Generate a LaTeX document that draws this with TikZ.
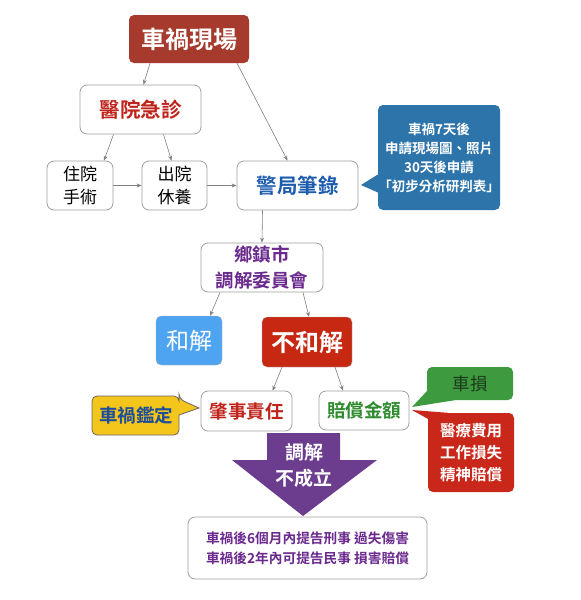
\documentclass[tikz,border=0pt]{standalone}
\usepackage{fontspec}
\setmainfont{Noto Sans CJK TC}[BoldFont={Noto Sans CJK TC Bold}]
\usetikzlibrary{arrows.meta}
\definecolor{scenered}{HTML}{A63A2C}
\definecolor{erred}{HTML}{C0231A}
\definecolor{policeblue}{HTML}{1C5BAE}
\definecolor{noteblue}{HTML}{2D74AA}
\definecolor{mediatepurple}{HTML}{6B2A8E}
\definecolor{peaceblue}{HTML}{4FA4F2}
\definecolor{nopeacered}{HTML}{C62812}
\definecolor{checkyellow}{HTML}{F4C51B}
\definecolor{checkblue}{HTML}{1C4E9A}
\definecolor{paygreen}{HTML}{2E8B2E}
\definecolor{carbg}{HTML}{3D9A3E}
\definecolor{carfg}{HTML}{1E3A1E}
\definecolor{costred}{HTML}{C9271A}
\definecolor{arrowpurple}{HTML}{6C3D8E}
\tikzset{
  whitebox/.style={draw=gray!75, line width=0.8pt, fill=white, rounded corners=7pt, align=center, inner sep=0pt},
  fillbox/.style={rounded corners=5pt, align=center, inner sep=0pt, text=white, font=\bfseries},
  link/.style={draw=gray, line width=0.6pt, -{Stealth[length=5pt,width=4pt]}},
}
\begin{document}
\begin{tikzpicture}[x=1pt, y=-1pt]
		\useasboundingbox (0,0) rectangle (581,600);
		% Top
		\node[fillbox, fill=scenered, minimum width=120pt, minimum height=48pt, font=\bfseries\fontsize{24}{24}\selectfont] (scene) at (189,39) {車禍現場};
		\node[whitebox, minimum width=121pt, minimum height=49pt, text=erred, font=\bfseries\fontsize{20.5}{20.5}\selectfont] (er) at (140.5,109.5) {醫院急診};
		% Hospital and police
		\node[whitebox, minimum width=66pt, minimum height=49pt, font=\fontsize{17}{23}\selectfont] (surgery) at (80,185.5) {住院\\手術};
		\node[whitebox, minimum width=65pt, minimum height=49pt, font=\fontsize{17}{23}\selectfont] (rest) at (174.5,185.5) {出院\\休養};
		\node[whitebox, minimum width=121pt, minimum height=49pt, text=policeblue, font=\bfseries\fontsize{20.5}{20.5}\selectfont] (police) at (297.5,185.5) {警局筆錄};
		\node[fillbox, fill=noteblue, minimum width=122pt, minimum height=105pt, font=\bfseries\fontsize{13.5}{19}\selectfont] (note) at (439,157.5) {車禍7天後\\申請現場圖、照片\\30天後申請\\「初步分析研判表」};
		\coordinate (notetip) at (361,185);
		\fill[noteblue] ([yshift=-17pt]note.west) -- (notetip) -- ([yshift=-35pt]note.west) -- cycle;
		% Mediation
		\node[whitebox, minimum width=122pt, minimum height=49pt, text=mediatepurple, font=\bfseries\fontsize{18.5}{26}\selectfont] (office) at (262,267.5) {鄉鎮市\\調解委員會};
		\node[fillbox, fill=peaceblue, draw=gray!60, minimum width=66pt, minimum height=49pt, font=\fontsize{23}{23}\selectfont] (peace) at (189,340.5) {和解};
		\node[fillbox, fill=nopeacered, draw=gray!60, minimum width=90pt, minimum height=50pt, font=\bfseries\fontsize{24}{24}\selectfont] (nopeace) at (307,342) {不和解};
		% Responsibility and compensation
		\node[whitebox, minimum width=91pt, minimum height=40pt, text=erred, font=\bfseries\fontsize{18.5}{18.5}\selectfont] (fault) at (246.5,411) {肇事責任};
		\node[whitebox, minimum width=90pt, minimum height=39pt, text=paygreen, font=\bfseries\fontsize{18.5}{18.5}\selectfont] (pay) at (364,410.5) {賠償金額};
		\coordinate (checktip) at (199,408);
		\fill[checkyellow, draw=gray!80!black, line width=0.8pt, rounded corners=5pt] (92,396) -- (179,396) -- (179,399) [sharp corners] -- (checktip) -- (179,415) [rounded corners=5pt] -- (179,435) -- (92,435) -- cycle;
		\node[text=checkblue, font=\bfseries\fontsize{18.5}{18.5}\selectfont, inner sep=0pt] (check) at (136,415.5) {車禍鑑定};
		\node[fillbox, fill=carbg, text=carfg, minimum width=86pt, minimum height=33pt, font=\fontsize{17.5}{17.5}\selectfont] (car) at (470,383.5) {車損};
		\coordinate (cartip) at (412,407);
		\fill[carbg] ([yshift=9pt]car.south west) -- (cartip) -- ([xshift=28pt]car.south west) -- cycle;
		\node[fillbox, fill=costred, minimum width=86pt, minimum height=79pt, font=\bfseries\fontsize{15.5}{22}\selectfont] (cost) at (471,452.5) {醫療費用\\工作損失\\精神賠償};
		\coordinate (costtip) at (412,410);
		\fill[costred] ([yshift=-6pt]cost.north west) -- (costtip) -- ([xshift=20pt]cost.north west) -- cycle;
		% Failed mediation arrow
		\fill[arrowpurple] (267,433) -- (340,433) -- (340,460) -- (377,460) -- (303,516) -- (232,460) -- (267,460) -- cycle;
		\node[text=white, font=\bfseries\fontsize{19}{26}\selectfont, align=center, inner sep=0pt] (fail) at (304,465) {調解\\不成立};
		\node[whitebox, minimum width=239pt, minimum height=62pt, text=mediatepurple, font=\bfseries\fontsize{13.7}{19.5}\selectfont] (law) at (307.5,548) {車禍後6個月內提告刑事 過失傷害\\車禍後2年內可提告民事 損害賠償};
		% Connectors
		\draw[link] ([xshift=-39pt]scene.south) -- ([xshift=3pt]er.north);
		\draw[link] ([xshift=48pt]scene.south) -- ([xshift=-10pt]police.north);
		\draw[link] ([xshift=-27pt]er.south) -- ([xshift=24pt]surgery.north);
		\draw[link] ([xshift=23pt]er.south) -- ([xshift=-3pt]rest.north);
		\draw[link] (surgery.east) -- (rest.west);
		\draw[link] (rest.east) -- (police.west);
		\draw[link] ([xshift=-35pt]police.south) -- (office.north);
		\draw[link] ([xshift=-42pt]office.south) -- ([xshift=21pt]peace.north);
		\draw[link] ([xshift=41pt]office.south) -- ([xshift=2pt]nopeace.north);
		\draw[link] ([xshift=-25pt]nopeace.south) -- ([xshift=26pt]fault.north);
		\draw[link] ([xshift=28pt]nopeace.south) -- ([xshift=-21pt]pay.north);
	\end{tikzpicture}
\end{document}
